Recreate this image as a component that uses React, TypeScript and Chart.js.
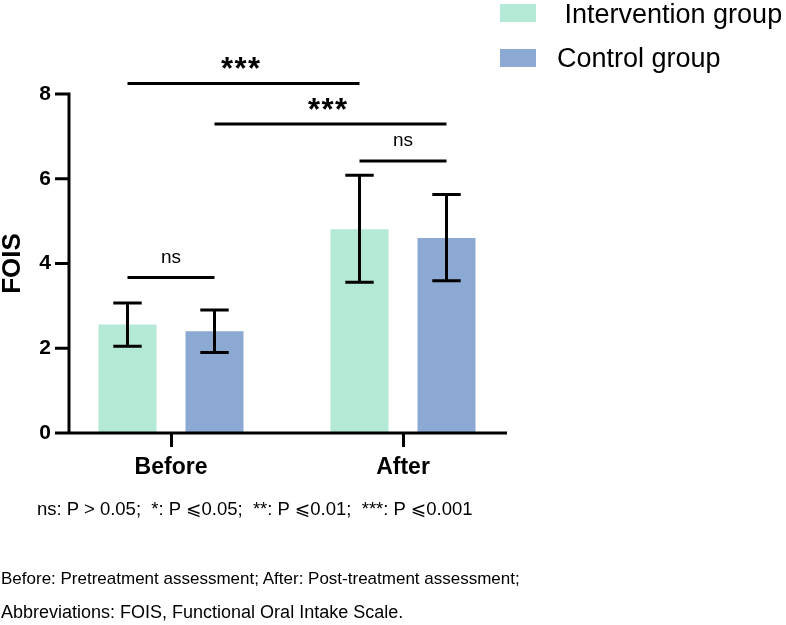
import React, { useEffect, useRef } from 'react';
import { Chart, registerables } from 'chart.js';

Chart.register(...registerables);

// ---- data ----
const categories = ['Before', 'After'];
const seriesLabels = [' Intervention group', 'Control group'];
const seriesColors = ['#b3e9d5', '#8ba9d2'];
const interventionMean = [2.56, 4.81];
const interventionUpper = [3.07, 6.08];
const interventionLower = [2.05, 3.56];
const controlMean = [2.4, 4.6];
const controlUpper = [2.9, 5.63];
const controlLower = [1.9, 3.59];
const yTickValues = [0, 2, 4, 6, 8];
const sigLabels = ['***', '***', 'ns', 'ns'];
const sigFrom = [[0, 0], [1, 0], [0, 1], [0, 0]];
const sigTo = [[0, 1], [1, 1], [1, 1], [1, 0]];
const sigLevel = [8.25, 7.29, 6.42, 3.67];
const footParts = ['ns: P > 0.05;  *: P ', '0.05;  **: P ', '0.01;  ***: P ', '0.001'];
const footLine2 = 'Before: Pretreatment assessment; After: Post-treatment assessment;';
const footLine3 = 'Abbreviations: FOIS, Functional Oral Intake Scale.';

const FONT = '"Liberation Sans", Arial, Helvetica, sans-serif';

const overlayPlugin = {
  id: 'overlay',
  afterDatasetsDraw(chart: any) {
    const { ctx, chartArea, scales } = chart;
    const y = scales.y;
    ctx.save();
    ctx.strokeStyle = '#000';
    ctx.fillStyle = '#000';
    ctx.lineWidth = 3;
    ctx.lineCap = 'butt';

    // axes
    const axisX = chartArea.left + 14;
    const y0 = y.getPixelForValue(0);
    const yTop = y.getPixelForValue(yTickValues[yTickValues.length - 1]);
    ctx.beginPath();
    ctx.moveTo(axisX, yTop - 1.5);
    ctx.lineTo(axisX, y0);
    yTickValues.forEach((v) => {
      const py = y.getPixelForValue(v);
      ctx.moveTo(chartArea.left, py);
      ctx.lineTo(axisX + 1.5, py);
    });
    ctx.moveTo(chartArea.left, y0);
    ctx.lineTo(chartArea.right - 12, y0);
    ctx.stroke();

    // error bars
    const highs = [interventionUpper, controlUpper];
    const lows = [interventionLower, controlLower];
    chart.data.datasets.forEach((_ds: any, i: number) => {
      const meta = chart.getDatasetMeta(i);
      meta.data.forEach((bar: any, j: number) => {
        const x = bar.x;
        const half = bar.width * 0.245;
        const yu = y.getPixelForValue(highs[i][j]);
        const yl = y.getPixelForValue(lows[i][j]);
        ctx.beginPath();
        ctx.moveTo(x, yu);
        ctx.lineTo(x, yl);
        ctx.moveTo(x - half, yu);
        ctx.lineTo(x + half, yu);
        ctx.moveTo(x - half, yl);
        ctx.lineTo(x + half, yl);
        ctx.stroke();
      });
    });

    // significance lines
    sigLabels.forEach((lab, k) => {
      const a = chart.getDatasetMeta(sigFrom[k][0]).data[sigFrom[k][1]] as any;
      const b = chart.getDatasetMeta(sigTo[k][0]).data[sigTo[k][1]] as any;
      const py = y.getPixelForValue(sigLevel[k]);
      ctx.beginPath();
      ctx.moveTo(a.x, py);
      ctx.lineTo(b.x, py);
      ctx.stroke();
      const cx = (a.x + b.x) / 2 - 3;
      ctx.textAlign = 'center';
      ctx.textBaseline = 'middle';
      if (lab === 'ns') {
        ctx.font = `19px ${FONT}`;
        ctx.fillText(lab, cx + 3, py - 20);
      } else {
        ctx.font = `bold 31px ${FONT}`;
        const chars = lab.split('');
        chars.forEach((c, n) => {
          ctx.fillText(c, cx + (n - (chars.length - 1) / 2) * 13.5, py - 13);
        });
      }
    });
    ctx.restore();
  },
  afterDraw(chart: any) {
    const { ctx } = chart;
    ctx.save();
    chart.data.datasets.forEach((ds: any, i: number) => {
      ctx.fillStyle = ds.backgroundColor;
      ctx.fillRect(500, 4 + i * 45, 36, 18);
      ctx.fillStyle = '#000';
      ctx.font = `27px ${FONT}`;
      ctx.textAlign = 'left';
      ctx.textBaseline = 'alphabetic';
      ctx.fillText(ds.label, 557, 23 + i * 44);
    });
    ctx.restore();
  },
};

export default function App() {
  const canvasRef = useRef<HTMLCanvasElement | null>(null);

  useEffect(() => {
    document.body.style.margin = '0';
    const canvas = canvasRef.current;
    if (!canvas) return;
    const chart = new Chart(canvas, {
      type: 'bar',
      data: {
        labels: categories,
        datasets: [
          {
            label: seriesLabels[0],
            data: interventionMean,
            backgroundColor: seriesColors[0],
            categoryPercentage: 0.75,
            barPercentage: 0.667,
          },
          {
            label: seriesLabels[1],
            data: controlMean,
            backgroundColor: seriesColors[1],
            categoryPercentage: 0.75,
            barPercentage: 0.667,
          },
        ],
      },
      options: {
        responsive: false,
        animation: false,
        layout: { padding: { left: 0, top: 94, right: 267, bottom: 132 } },
        plugins: {
          legend: { display: false },
          tooltip: { enabled: false },
        },
        scales: {
          x: {
            type: 'category',
            offset: true,
            border: { display: false },
            grid: {
              display: true,
              offset: false,
              drawOnChartArea: false,
              drawTicks: true,
              tickLength: 14,
              color: '#000',
              lineWidth: 3,
            },
            ticks: {
              color: '#000',
              padding: 7,
              font: { family: FONT, size: 23, weight: 'bold' },
            },
            afterFit: (s: any) => {
              s.height = 60;
            },
          },
          y: {
            min: 0,
            max: 8,
            border: { display: false },
            grid: { display: true, drawOnChartArea: false, drawTicks: false },
            ticks: {
              color: '#000',
              padding: 4,
              font: { family: FONT, size: 21, weight: 'bold' },
            },
            afterBuildTicks: (s: any) => {
              s.ticks = yTickValues.map((v) => ({ value: v }));
            },
            afterFit: (s: any) => {
              s.width = 55;
            },
            title: {
              display: true,
              text: 'FOIS',
              color: '#000',
              padding: 0,
              font: { family: FONT, size: 26, weight: 'bold', lineHeight: 1 },
            },
          },
        },
      },
      plugins: [overlayPlugin],
    } as any);
    return () => chart.destroy();
  }, []);

  const textStyle: React.CSSProperties = {
    position: 'absolute',
    fontFamily: FONT,
    fontSize: 17,
    lineHeight: '20px',
    whiteSpace: 'pre',
    color: '#000',
  };
  const le = <span style={{ fontFamily: '"Noto Sans CJK SC", "DejaVu Sans", sans-serif' }}>{'\u2A7D'}</span>;

  return (
    <div style={{ position: 'relative', width: 786, height: 625, background: '#fff', overflow: 'hidden' }}>
      <canvas ref={canvasRef} width={786} height={625} style={{ position: 'absolute', left: 0, top: 0, width: 786, height: 625 }} />
      <div style={{ ...textStyle, fontSize: 18.5, left: 37, top: 497 }}>
        {footParts[0]}{le}{footParts[1]}{le}{footParts[2]}{le}{footParts[3]}
      </div>
      <div style={{ ...textStyle, left: 1, top: 569 }}>{footLine2}</div>
      <div style={{ ...textStyle, fontSize: 18, left: 1, top: 602 }}>{footLine3}</div>
    </div>
  );
}
